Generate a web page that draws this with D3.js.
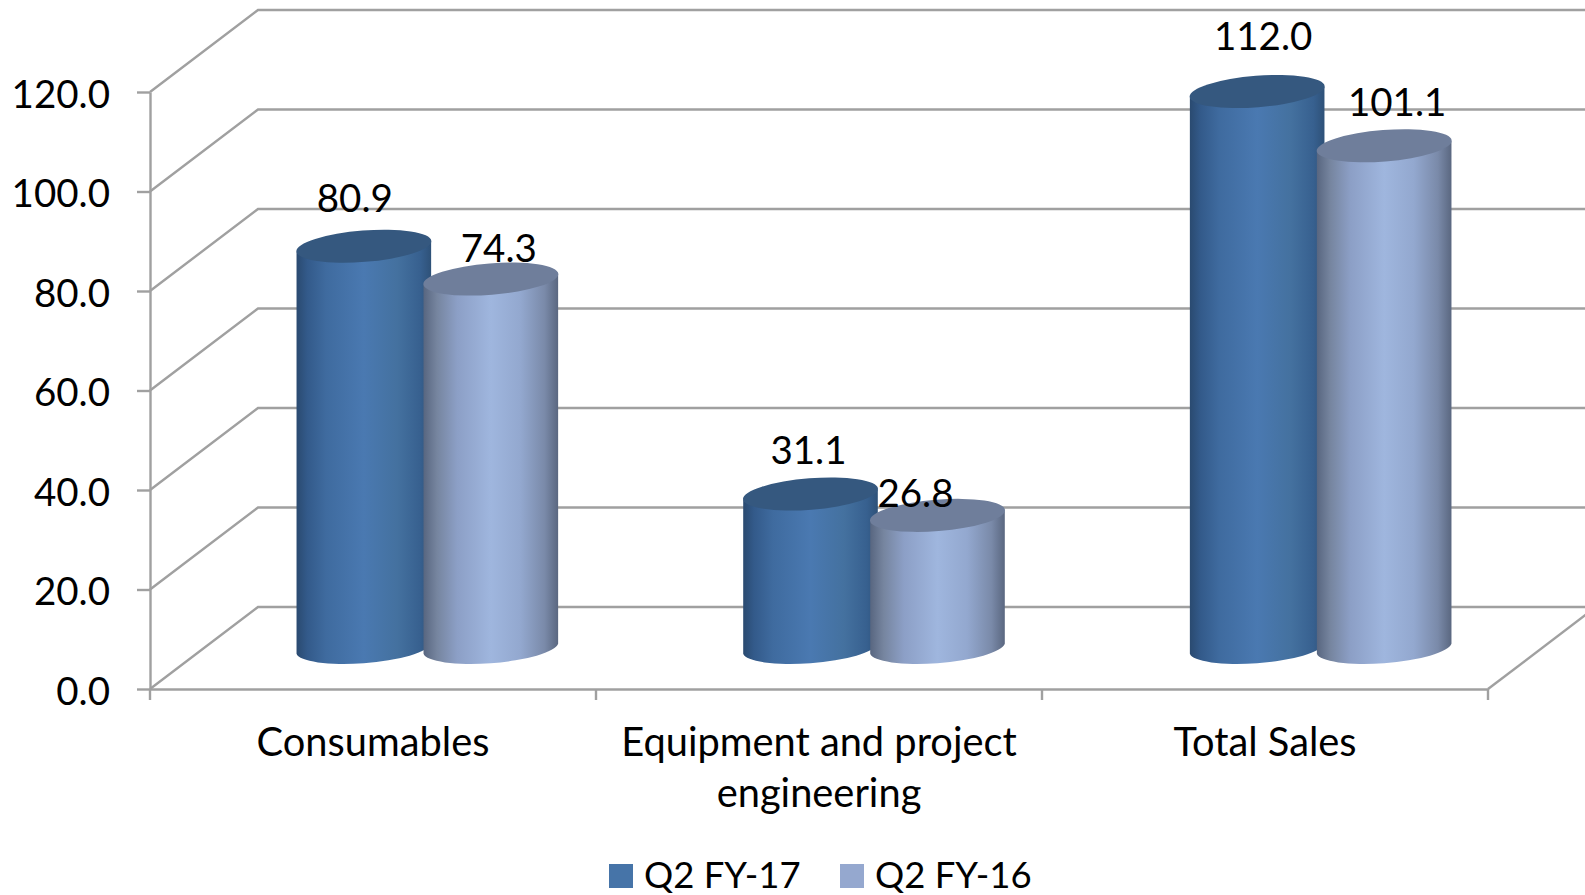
<!DOCTYPE html>
<html>
<head>
<meta charset="utf-8">
<script src="https://cdn.jsdelivr.net/npm/d3@7"></script>
<style>
  html, body { margin: 0; padding: 0; background: #fff; overflow: hidden; }
  svg { display: block; }
  text { font-family: Lato, sans-serif; font-size: 38.5px; fill: #000; }
  .grid { fill: none; stroke: #a0a0a0; stroke-width: 2.4; }
  .axis path, .axis line { stroke: #a0a0a0; stroke-width: 2.4; }
  .axis text { font-size: 38.5px; }
  .cat text { font-size: 39.8px; }
  .legend text { font-size: 36.5px; }
</style>
</head>
<body>
<div id="chart"></div>
<script>
  var categories = ['Consumables', 'Equipment and project engineering', 'Total Sales'];
  var seriesNames = ['Q2 FY-17', 'Q2 FY-16'];
  var q2Fy17 = [80.9, 31.1, 112.0];
  var q2Fy16 = [74.3, 26.8, 101.1];
  var yTicks = [0, 20, 40, 60, 80, 100, 120];

  // hand placed labels in the original, offset from the centre of each cylinder top
  var labelNudge = {
    'Q2 FY-17': [[-9, -34], [-2, -30], [6, -42]],
    'Q2 FY-16': [[8, -17], [-22, -8], [13, -30]]
  };

  var width = 1585, height = 895;
  var plotLeft = 150, plotRight = 1488, plotTop = 92, plotBottom = 689;
  var depthX = 108, depthY = -82;

  // cylinder geometry
  var barRx = 67.7, barRy = 15.7, barTilt = -4.5,
      barHalfW = 67.3, barEdgeDy = 5, barStep = 127;

  var x = d3.scaleBand().domain(categories).range([plotLeft, plotRight]);
  var y = d3.scaleLinear().domain([0, 120]).range([plotBottom, plotTop]);
  // the cylinders sit on a row half way back, slightly wider than the front edge
  var xBars = d3.scaleBand().domain(categories)
    .range([plotLeft + depthX / 2, plotRight + depthX / 2 + 2]);
  var seriesOffset = d3.scalePoint().domain(seriesNames).range([-barStep / 2, barStep / 2]);

  var svg = d3.select('#chart').append('svg')
    .attr('width', width)
    .attr('height', height)
    .attr('viewBox', '0 0 ' + width + ' ' + height);

  var defs = svg.append('defs');

  function addGradient(id, stops) {
    var g = defs.append('linearGradient').attr('id', id);
    stops.forEach(function(s) {
      g.append('stop').attr('offset', s[0]).attr('stop-color', s[1]);
    });
  }

  addGradient('bodyDark', [
    [0, '#2a4a70'], [0.08, '#335a8a'], [0.22, '#3f6b9f'], [0.5, '#4a79b1'],
    [0.75, '#44719f'], [0.92, '#37608f'], [1, '#2e5178']
  ]);
  addGradient('bodyLight', [
    [0, '#586680'], [0.1, '#76859f'], [0.25, '#8c9fc6'], [0.5, '#9fb6de'],
    [0.72, '#93a8cf'], [0.9, '#7a8aa9'], [1, '#5a6780']
  ]);

  var fills = {
    'Q2 FY-17': { body: 'url(#bodyDark)', cap: '#35587f', swatch: '#4674a8' },
    'Q2 FY-16': { body: 'url(#bodyLight)', cap: '#6f7e9b', swatch: '#95a8cf' }
  };

  // back wall and side wall gridlines
  svg.append('g').selectAll('path')
    .data(yTicks)
    .join('path')
    .attr('class', 'grid')
    .attr('d', function(d) {
      return d3.line()([
        [plotLeft, y(d)],
        [plotLeft + depthX, y(d) + depthY],
        [plotRight + depthX, y(d) + depthY]
      ]);
    });

  // right edge of the floor
  svg.append('path')
    .attr('class', 'grid')
    .attr('d', d3.line()([[plotRight, plotBottom], [plotRight + depthX, plotBottom + depthY]]));

  var yAxis = d3.axisLeft(y)
    .tickValues(yTicks)
    .tickSizeInner(13)
    .tickSizeOuter(0)
    .tickPadding(27)
    .tickFormat(d3.format('.1f'));

  var yAxisG = svg.append('g')
    .attr('class', 'axis')
    .attr('transform', 'translate(' + plotLeft + ',0)')
    .call(yAxis);

  yAxisG.selectAll('.tick text').attr('dy', '0.39em');

  var xAxis = d3.axisBottom(x).tickSize(0).tickPadding(39);

  var xAxisG = svg.append('g')
    .attr('class', 'axis cat')
    .attr('transform', 'translate(0,' + plotBottom + ')')
    .call(xAxis);

  // ticks sit between the categories
  xAxisG.selectAll('.sep')
    .data(d3.range(categories.length + 1))
    .join('line')
    .attr('class', 'sep')
    .attr('x1', function(i) { return plotLeft + i * x.step(); })
    .attr('x2', function(i) { return plotLeft + i * x.step(); })
    .attr('y1', 0)
    .attr('y2', 11);

  xAxisG.selectAll('.tick text').call(wrap, x.step() - 20);

  function wrap(selection, maxWidth) {
    selection.each(function(label) {
      var t = d3.select(this), words = label.split(' '), line = [];
      var tx = t.attr('x') || 0, ty = t.attr('y');
      t.text(null).attr('dy', null);
      var tspan = t.append('tspan').attr('x', tx).attr('y', ty).attr('dy', '0.71em');
      words.forEach(function(w) {
        line.push(w);
        tspan.text(line.join(' '));
        if (tspan.node().getComputedTextLength() > maxWidth && line.length > 1) {
          line.pop();
          tspan.text(line.join(' '));
          line = [w];
          tspan = t.append('tspan').attr('x', tx).attr('y', ty).attr('dy', '1.99em').text(w);
        }
      });
    });
  }

  function barPath(cx, topY, baseY) {
    var x0 = cx - barHalfW, x1 = cx + barHalfW;
    return 'M' + x0 + ',' + (topY + barEdgeDy) +
      'L' + x0 + ',' + (baseY + barEdgeDy) +
      'A' + barRx + ',' + barRy + ' ' + barTilt + ' 0 0 ' + x1 + ',' + (baseY - barEdgeDy) +
      'L' + x1 + ',' + (topY - barEdgeDy) +
      'A' + barRx + ',' + barRy + ' ' + barTilt + ' 0 1 ' + x0 + ',' + (topY + barEdgeDy) + 'Z';
  }

  var rows = [];
  seriesNames.forEach(function(name, s) {
    var values = s === 0 ? q2Fy17 : q2Fy16;
    categories.forEach(function(c, i) {
      rows.push({ series: name, category: c, index: i, value: values[i] });
    });
  });

  function barX(d) {
    return xBars(d.category) + xBars.bandwidth() / 2 + seriesOffset(d.series);
  }
  function barY(v) {
    return y(v) + depthY / 2 + 0.7;
  }

  var bars = svg.append('g').selectAll('g')
    .data(rows)
    .join('g');

  bars.append('path')
    .attr('fill', function(d) { return fills[d.series].body; })
    .attr('d', function(d) { return barPath(barX(d), barY(d.value), barY(0)); });

  bars.append('ellipse')
    .attr('rx', barRx)
    .attr('ry', barRy)
    .attr('fill', function(d) { return fills[d.series].cap; })
    .attr('transform', function(d) {
      return 'translate(' + barX(d) + ',' + barY(d.value) + ') rotate(' + barTilt + ')';
    });

  svg.append('g').selectAll('text')
    .data(rows)
    .join('text')
    .attr('text-anchor', 'middle')
    .attr('x', function(d) { return barX(d) + labelNudge[d.series][d.index][0]; })
    .attr('y', function(d) { return barY(d.value) + labelNudge[d.series][d.index][1]; })
    .text(function(d) { return d3.format('.1f')(d.value); });

  // legend
  var legendX = d3.scalePoint().domain(seriesNames).range([609, 840]);
  var legend = svg.append('g').attr('class', 'legend').selectAll('g')
    .data(seriesNames)
    .join('g')
    .attr('transform', function(d) { return 'translate(' + legendX(d) + ',864)'; });

  legend.append('rect')
    .attr('width', 24)
    .attr('height', 24)
    .attr('fill', function(d) { return fills[d].swatch; });

  legend.append('text')
    .attr('x', 35)
    .attr('y', 24)
    .text(function(d) { return d; });
</script>
</body>
</html>
